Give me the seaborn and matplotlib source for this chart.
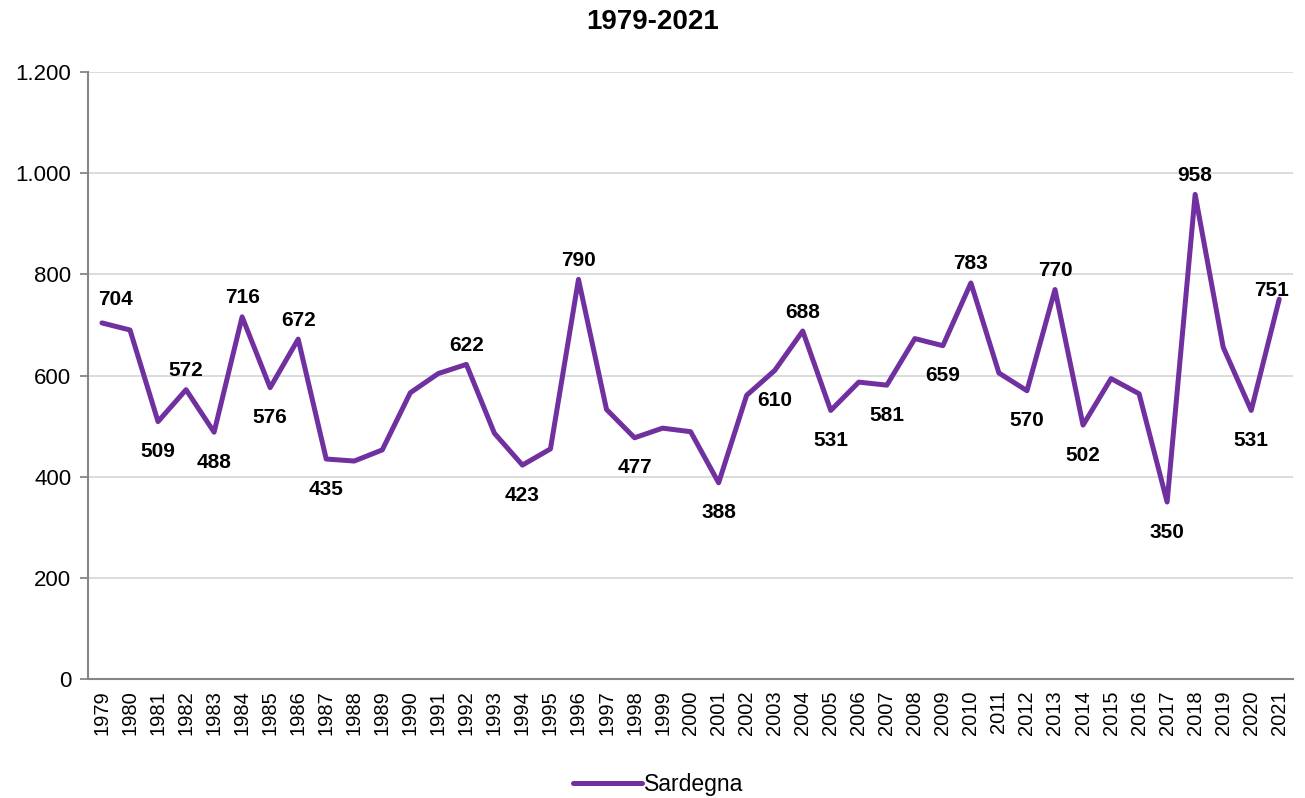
import matplotlib
matplotlib.use('Agg')

import matplotlib.pyplot as plt
import matplotlib.ticker as mticker
import seaborn as sns
import pandas as pd

# --- Data ---
years = list(range(1979, 2022))
values = [704, 690, 509, 572, 488, 716, 576, 672, 435, 431,
          453, 566, 604, 622, 486, 423, 455, 790, 533, 477,
          496, 489, 388, 561, 610, 688, 531, 587, 581, 673,
          659, 783, 605, 570, 770, 502, 594, 564, 350, 958,
          656, 531, 751]

# years that carry a label, and where it sits (above / below the point)
labels_above = [1979, 1982, 1984, 1986, 1992, 1996, 2004, 2010, 2013, 2018, 2021]
labels_below = [1981, 1983, 1985, 1987, 1994, 1998, 2001, 2003, 2005, 2007,
                2009, 2012, 2014, 2017, 2020]

PURPLE = "#7030A0"
GRID = "#D9D9D9"
AXIS = "#868686"
PX = 0.72  # points per pixel at dpi 100

df = pd.DataFrame({"Anno": years, "Valore": values, "Serie": "Sardegna"})

sns.set_theme(style="white")
plt.rcParams['font.family'] = ['Liberation Sans', 'DejaVu Sans']
plt.rcParams['text.color'] = 'black'

fig = plt.figure(figsize=(13.05, 7.98), dpi=100)
ax = fig.add_axes([0.0674, 0.149, 0.9236, 0.7608])

sns.lineplot(data=df, x="Anno", y="Valore", hue="Serie", palette=[PURPLE],
             linewidth=3.6, ax=ax, legend=True)

# label placement tweaks (pixels): a few labels are nudged like in the original
special = {1979: (14, 23), 2021: (-8, 9)}

for yr, val in zip(years, values):
    if yr in special:
        dx, dy = special[yr]
    elif yr in labels_above:
        dx, dy = 0, 19
    elif yr in labels_below:
        dx, dy = 0, -30
    else:
        continue
    ax.annotate(f"{val}", (yr, val), xytext=(dx * PX, dy * PX), textcoords="offset points",
                ha="center", va="center", fontsize=15, fontweight="bold", color="black")

ax.set_xlim(years[0] - 0.5, years[-1] + 0.5)
ax.set_ylim(0, 1200)
ax.yaxis.set_major_locator(mticker.MultipleLocator(200))
ax.yaxis.set_major_formatter(mticker.FuncFormatter(lambda v, p: f"{int(v):,}".replace(",", ".")))

ax.set_xticks(years)
ax.set_xticklabels([str(y) for y in years], rotation=90)
ax.set_xticks([y - 0.5 for y in years] + [years[-1] + 0.5], minor=True)
ax.tick_params(axis="x", which="major", length=0, pad=8, labelsize=14.5, colors="black")
ax.tick_params(axis="x", which="minor", length=6, width=1.3, color=AXIS, direction="out")
ax.tick_params(axis="y", which="major", length=6, width=1.3, color=AXIS, direction="out",
               labelsize=16, labelcolor="black", left=True, pad=6)

ax.grid(axis="y", color=GRID, linewidth=1.3)
ax.set_axisbelow(True)
for side in ["top", "right"]:
    ax.spines[side].set_visible(False)
for side in ["left", "bottom"]:
    ax.spines[side].set_color(AXIS)
    ax.spines[side].set_linewidth(1.5)

ax.set_xlabel("")
ax.set_ylabel("")
fig.suptitle("1979-2021", x=0.5, y=1 - 22 / 798, va="center",
             fontsize=20, fontweight="bold", color="black")

handles, lbls = ax.get_legend_handles_labels()
ax.get_legend().remove()
fig.legend(handles, lbls, loc="center", bbox_to_anchor=(658 / 1305, 1 - 785 / 798),
           frameon=False, fontsize=16.5, handlelength=3.0, handletextpad=0.1)

fig.savefig("out.png", dpi=100)
